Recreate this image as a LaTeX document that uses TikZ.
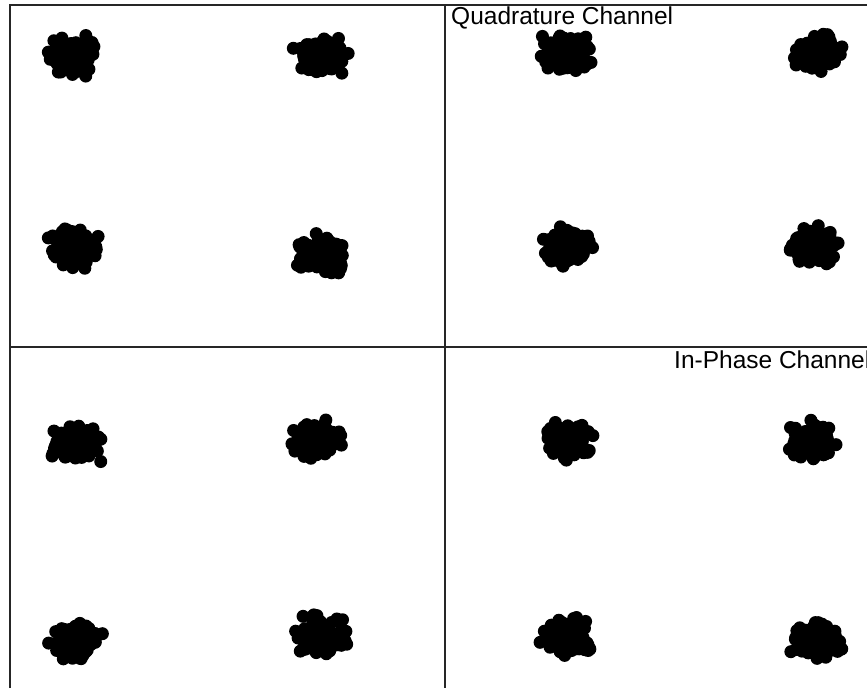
\documentclass[tikz,border=0pt]{standalone}
\usepackage{fontspec}
\setmainfont{Liberation Sans}

\begin{document}
\begin{tikzpicture}[x=1pt, y=-1pt,
	frame/.style={line width=1.3pt, draw=black!85},
	sample/.style={fill=black},
	caption/.style={font=\fontsize{24.5}{30}\selectfont, inner sep=0pt, anchor=base west},
	]
	\useasboundingbox (0,0) rectangle (867,688);
	\clip (0,0) rectangle (867,688);
	\pgfmathsetseed{17}

	%Frame
	\coordinate (lb) at (10,688);
	\coordinate (lt) at (10,5);
	\coordinate (rt) at (867,5);
	\coordinate (mt) at (445,5);
	\coordinate (mb) at (445,688);
	\coordinate (ml) at (10,347);
	\coordinate (mr) at (867,347);
	\draw[frame] (lb) -- (lt) -- (rt);
	\draw[frame] (mt) -- (mb);
	\draw[frame] (ml) -- (mr);

	%Clusters
	\foreach \cx/\cy in {72/56, 320/55, 72/248, 321/254,
	                     567/52, 817/53, 567/248, 813/247,
	                     75/442, 318/440, 76/640, 322/636,
	                     568/440, 812/441, 568/637, 818/641}{
		\foreach \k in {1,...,120}{
			\pgfmathsetmacro\px{\cx+10.5*(rand+rand+rand)}
			\pgfmathsetmacro\py{\cy+8*(rand+rand+rand)}
			\fill[sample] (\px,\py) circle[radius=6.5];
		}
	}

	%Labels
	\node[caption] (qlabel) at (451,24) {Quadrature Channel};
	\node[caption] (ilabel) at (674,368) {In-Phase Channel};
\end{tikzpicture}
\end{document}
